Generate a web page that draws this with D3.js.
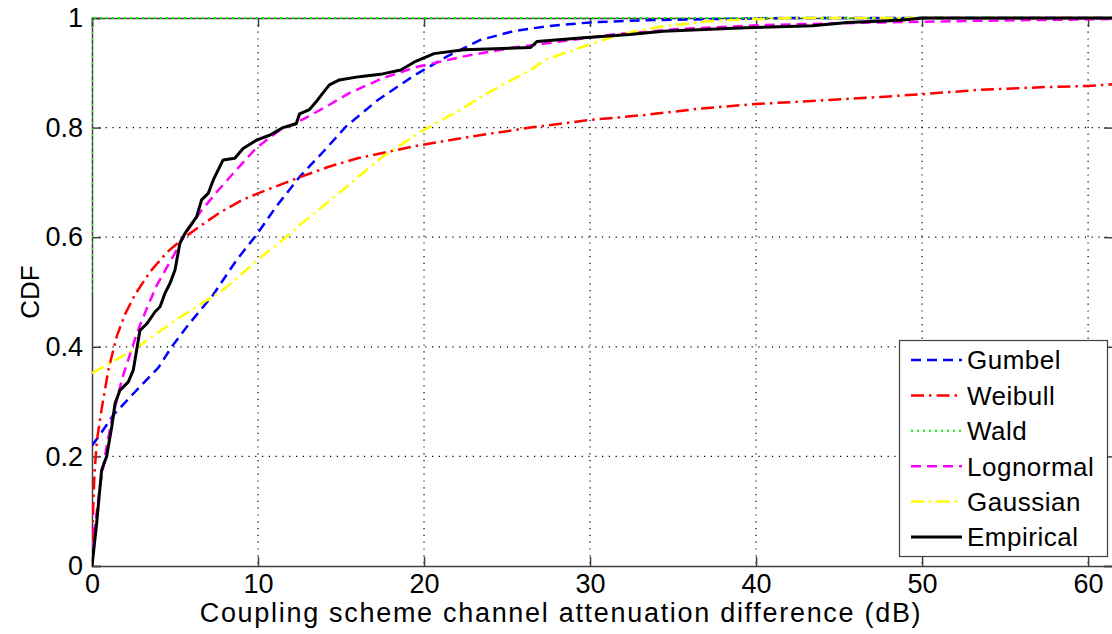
<!DOCTYPE html>
<html>
<head>
<meta charset="utf-8">
<script src="https://cdn.jsdelivr.net/npm/d3@7"></script>
<style>
  html, body { margin: 0; padding: 0; background: #fff; }
  svg { display: block; font-family: "Liberation Sans", Arial, Helvetica, sans-serif; }
</style>
</head>
<body>
<svg id="chart" width="1112" height="634"></svg>
<script>
// Fitted CDFs and the empirical CDF of the attenuation difference (dB)
const gumbelX = [0, 0.4, 1.3, 2.6, 4.0, 4.8, 5.8, 7.3, 8.7, 9.9, 11.1, 12.5, 13.9, 15.3, 17.2, 19.4, 21.4, 23.4, 25.4, 27.4, 30, 33.4, 37.4, 42, 61.5];
const gumbelY = [0.22, 0.236, 0.276, 0.318, 0.362, 0.4, 0.44, 0.495, 0.558, 0.604, 0.656, 0.71, 0.755, 0.802, 0.85, 0.895, 0.93, 0.96, 0.976, 0.985, 0.992, 0.996, 0.998, 1, 1];

const weibullX = [0, 0.05, 0.15, 0.3, 0.6, 1.0, 1.5, 2.0, 2.6, 3.5, 4.5, 5.5, 6.5, 7.7, 9, 10, 12.3, 14.3, 16, 19.4, 22.9, 26.4, 30, 33.3, 36.7, 40, 43.6, 47.5, 50, 53.5, 57.5, 60, 61.5];
const weibullY = [0, 0.09, 0.17, 0.23, 0.29, 0.36, 0.42, 0.46, 0.496, 0.537, 0.572, 0.598, 0.62, 0.645, 0.667, 0.68, 0.707, 0.729, 0.744, 0.766, 0.784, 0.8, 0.814, 0.823, 0.835, 0.843, 0.849, 0.856, 0.861, 0.869, 0.874, 0.876, 0.879];

const waldX = [0, 0, 61.5];
const waldY = [0.5, 1, 1];

const lognormalX = [0, 0.08, 0.48, 0.88, 1.19, 1.69, 1.9, 2.6, 2.9, 3.3, 3.9, 4.9, 5.7, 6.5, 7.5, 8.7, 9.9, 11.3, 12.7, 14.1, 15.5, 17.5, 19.6, 22.4, 25.4, 28.4, 31.4, 35.4, 40.4, 47.5, 53.5, 61.5];
const lognormalY = [0, 0.05, 0.145, 0.218, 0.266, 0.327, 0.35, 0.415, 0.44, 0.47, 0.512, 0.566, 0.61, 0.645, 0.682, 0.723, 0.763, 0.795, 0.815, 0.838, 0.863, 0.89, 0.911, 0.93, 0.946, 0.958, 0.97, 0.98, 0.987, 0.992, 0.995, 0.998];

const gaussianX = [0, 2.5, 5.0, 7.9, 8.7, 10.1, 11.3, 12.5, 15.1, 17.5, 20, 22.4, 23.4, 24.6, 26.4, 27.4, 30, 31.8, 34.4, 37.4, 42, 61.5];
const gaussianY = [0.352, 0.394, 0.448, 0.504, 0.524, 0.562, 0.59, 0.622, 0.686, 0.747, 0.796, 0.836, 0.856, 0.876, 0.905, 0.925, 0.952, 0.97, 0.985, 0.995, 1, 1];

const empiricalX = [0, 0.28, 0.58, 0.88, 1.19, 1.39, 1.69, 2.19, 2.49, 2.69, 2.89, 3.3, 3.8, 4.1, 4.4, 4.7, 5.0, 5.3, 5.6, 6.3, 6.6, 7.0, 7.3, 7.6, 7.9, 8.6, 9.1, 9.9, 10.7, 11.5, 12.3, 12.5, 13.1, 13.5, 13.9, 14.3, 14.9, 16.1, 17.5, 18.6, 19.5, 20.6, 22.4, 26.4, 26.8, 29.6, 32.4, 34.4, 39.4, 43.4, 45.5, 48.7, 50, 61.5];
const empiricalY = [0, 0.078, 0.175, 0.2, 0.254, 0.297, 0.321, 0.336, 0.358, 0.394, 0.43, 0.442, 0.464, 0.473, 0.498, 0.516, 0.54, 0.59, 0.607, 0.637, 0.668, 0.68, 0.704, 0.723, 0.741, 0.744, 0.762, 0.777, 0.786, 0.8, 0.807, 0.825, 0.833, 0.847, 0.863, 0.878, 0.887, 0.893, 0.898, 0.905, 0.921, 0.935, 0.942, 0.946, 0.957, 0.964, 0.97, 0.976, 0.982, 0.986, 0.992, 0.996, 1, 1];

const seriesNames = ["Gumbel", "Weibull", "Wald", "Lognormal", "Gaussian", "Empirical"];
const xTicks = [0, 10, 20, 30, 40, 50, 60];
const yTicks = [0, 0.2, 0.4, 0.6, 0.8, 1];
const xDomain = [0, 61.5];
const yDomain = [0, 1];

const series = [
  { name: seriesNames[0], xs: gumbelX,    ys: gumbelY,    color: "#0000ff", dash: "10,6",        width: 2.5 },
  { name: seriesNames[1], xs: weibullX,   ys: weibullY,   color: "#ff0000", dash: "13,5,2.5,5",  width: 2.5 },
  { name: seriesNames[2], xs: waldX,      ys: waldY,      color: "#00ee00", dash: "2,4",         width: 2 },
  { name: seriesNames[3], xs: lognormalX, ys: lognormalY, color: "#ff00ff", dash: "10,6",        width: 2.5 },
  { name: seriesNames[4], xs: gaussianX,  ys: gaussianY,  color: "#ffff00", dash: "13,5,2.5,5",  width: 2.5 },
  { name: seriesNames[5], xs: empiricalX, ys: empiricalY, color: "#000000", dash: null,          width: 3 }
];

const svg = d3.select("#chart");
const plotL = 92, plotR = 1113, plotT = 18, plotB = 566;

const x = d3.scaleLinear().domain(xDomain).range([plotL, plotR]);
const y = d3.scaleLinear().domain(yDomain).range([plotB, plotT]);

svg.append("rect").attr("width", 1112).attr("height", 634).attr("fill", "#fff");

// dotted grid
const grid = svg.append("g").attr("stroke", "#000").attr("stroke-width", 1.2)
  .attr("stroke-dasharray", "1.2,5.6");
grid.selectAll("line.gx").data(xTicks.slice(1)).join("line")
  .attr("x1", d => x(d)).attr("x2", d => x(d)).attr("y1", plotT).attr("y2", plotB);
grid.selectAll("line.gy").data(yTicks.slice(1, -1)).join("line")
  .attr("y1", d => y(d)).attr("y2", d => y(d)).attr("x1", plotL).attr("x2", plotR);

// axes with inward ticks on all four sides
const tickLen = 9;
const axisColor = "#404040";
const xAxisB = d3.axisBottom(x).tickValues(xTicks).tickSize(-tickLen).tickPadding(8).tickFormat(d3.format("d"));
const xAxisT = d3.axisTop(x).tickValues(xTicks).tickSize(-tickLen).tickFormat("");
const yAxisL = d3.axisLeft(y).tickValues(yTicks).tickSize(-tickLen).tickPadding(9).tickFormat(d => d === 0 || d === 1 ? String(d) : d3.format(".1f")(d));
const yAxisR = d3.axisRight(y).tickValues(yTicks).tickSize(-tickLen).tickFormat("");

function styleAxis(g) {
  g.select(".domain").attr("stroke", axisColor).attr("stroke-width", 1.5);
  g.selectAll(".tick line").attr("stroke", axisColor).attr("stroke-width", 1.5);
  g.selectAll(".tick text").attr("fill", "#000").attr("font-size", 27)
    .attr("font-family", "'Liberation Sans', Arial, sans-serif");
}
svg.append("g").attr("transform", `translate(0,${plotB})`).call(xAxisB).call(styleAxis)
  .selectAll(".tick text").attr("dy", "0.71em");
svg.append("g").attr("transform", `translate(0,${plotT})`).call(xAxisT).call(styleAxis);
svg.append("g").attr("transform", `translate(${plotL},0)`).call(yAxisL).call(styleAxis);
svg.append("g").attr("transform", `translate(${plotR},0)`).call(yAxisR).call(styleAxis);

// data curves
svg.append("clipPath").attr("id", "plotClip").append("rect")
  .attr("x", plotL).attr("y", plotT - 3).attr("width", plotR - plotL).attr("height", plotB - plotT + 3);

const line = d3.line().x(d => x(d[0])).y(d => y(d[1]));
const curves = svg.append("g").attr("clip-path", "url(#plotClip)");
series.forEach(s => {
  const pts = s.xs.map((v, i) => [v, s.ys[i]]);
  curves.append("path").datum(pts)
    .attr("d", line)
    .attr("fill", "none")
    .attr("stroke", s.color)
    .attr("stroke-width", s.width)
    .attr("stroke-dasharray", s.dash)
    .attr("stroke-linejoin", "round");
});

// axis titles
svg.append("text").attr("x", 561).attr("y", 622)
  .attr("text-anchor", "middle").attr("font-size", 27).attr("letter-spacing", 1.7)
  .text("Coupling scheme channel attenuation difference (dB)");
svg.append("text").attr("transform", `translate(39,${(plotT + plotB) / 2}) rotate(-90)`)
  .attr("text-anchor", "middle").attr("font-size", 26)
  .text("CDF");

// legend
const lg = svg.append("g");
lg.append("rect").attr("x", 899.5).attr("y", 340.5).attr("width", 208).attr("height", 216)
  .attr("fill", "#fff").attr("stroke", axisColor).attr("stroke-width", 1.2);
const rowY = d3.scalePoint().domain(seriesNames).range([360, 537]);
series.forEach(s => {
  const yy = rowY(s.name);
  lg.append("line").attr("x1", 911).attr("x2", 962).attr("y1", yy).attr("y2", yy)
    .attr("stroke", s.color).attr("stroke-width", s.width)
    .attr("stroke-dasharray", s.dash);
  lg.append("text").attr("x", 967).attr("y", yy).attr("dy", "0.36em")
    .attr("font-size", 26).attr("letter-spacing", 0.5).text(s.name);
});
</script>
</body>
</html>
